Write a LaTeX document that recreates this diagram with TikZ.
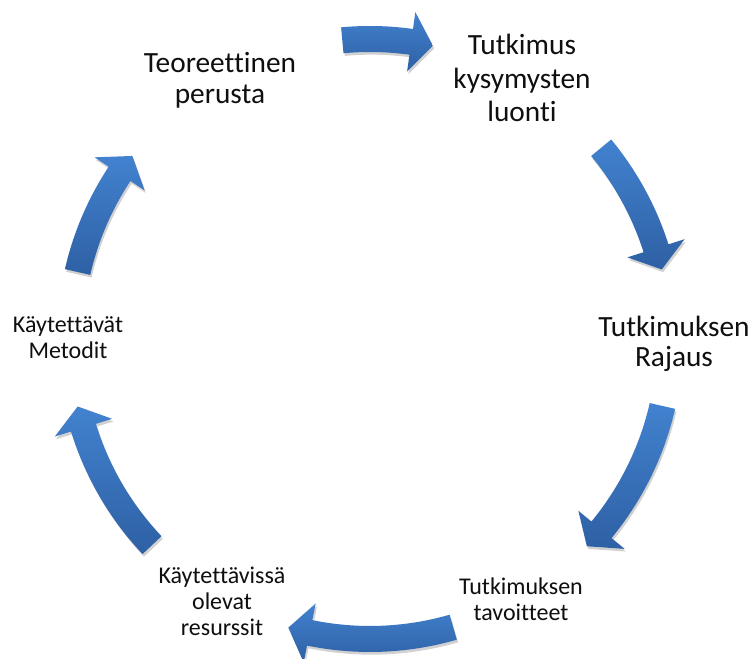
\documentclass[tikz,border=0pt]{standalone}
\usepackage{fontspec}
\setmainfont{Carlito}[Ligatures=NoCommon]
\usetikzlibrary{shadows}
\definecolor{arrowlight}{RGB}{66,130,207}
\definecolor{arrowdark}{RGB}{46,96,164}
\definecolor{labeltext}{RGB}{15,15,15}
\newcommand{\cyclearrow}[2]{%
  \pgfmathsetmacro\arrowhd{#2+4.2}%
  \draw[arrowbody] (#1:313) arc[start angle=#1, end angle=\arrowhd, radius=313]
    -- (\arrowhd:330) -- (#2:300) -- (\arrowhd:270) -- (\arrowhd:287)
    arc[start angle=\arrowhd, end angle=#1, radius=287] -- cycle;}
\begin{document}
\begin{tikzpicture}[x=0.75pt,y=0.75pt,
  arrowbody/.style={draw=none, top color=arrowlight, bottom color=arrowdark,
    drop shadow={shadow xshift=1pt, shadow yshift=-2pt, opacity=0.18, fill=black}},
  biglabel/.style={align=center, inner sep=0pt, text=labeltext,
    font=\fontsize{22}{23}\selectfont},
  biglabelwide/.style={biglabel, font=\fontsize{22}{25}\selectfont},
  smalllabel/.style={align=center, inner sep=0pt, text=labeltext,
    font=\fontsize{18}{19.5}\selectfont}]
\useasboundingbox (0,0) rectangle (751,659);
\fill[white] (0,0) rectangle (751,659);
\begin{scope}[shift={(370,320)}]
  \cyclearrow{95.3}{77.9}
  \cyclearrow{39.6}{13.4}
  \cyclearrow{-12.9}{-43.7}
  \cyclearrow{-73.9}{-105.8}
  \cyclearrow{223.4}{193.0}
  \cyclearrow{167.1}{142.4}
\end{scope}
\node[biglabel] (teoria) at (220,579) {Teoreettinen\\perusta};
\node[biglabelwide] (kysymys) at (522,581) {Tutkimus\\kysymysten\\luonti};
\node[biglabel] (rajaus) at (674,315) {Tutkimuksen\\Rajaus};
\node[smalllabel] (tavoite) at (521,60) {Tutkimuksen\\tavoitteet};
\node[smalllabel] (resurssi) at (222,58) {Käytettävissä\\olevat\\resurssit};
\node[smalllabel] (metodi) at (68,321) {Käytettävät\\Metodit};
\end{tikzpicture}
\end{document}
